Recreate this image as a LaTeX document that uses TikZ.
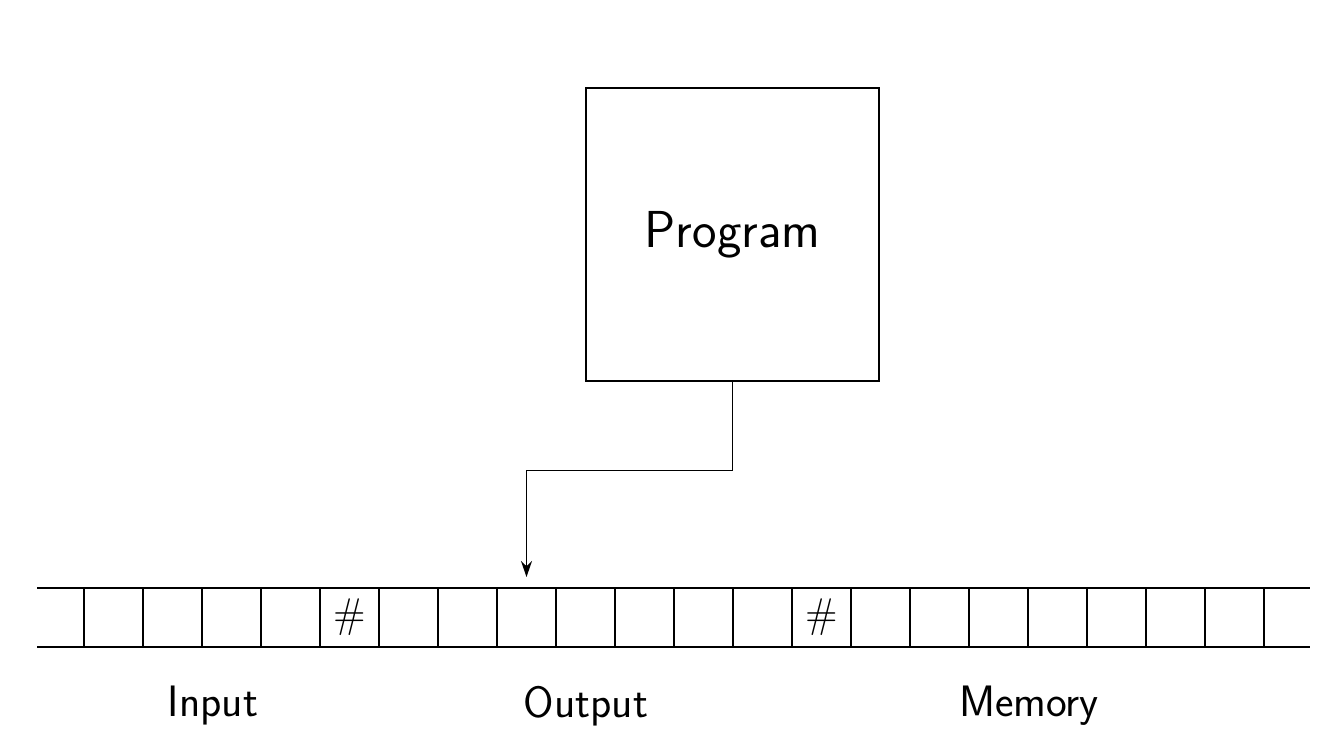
\documentclass[tikz,border=0pt]{standalone}
\usetikzlibrary{arrows.meta}
\renewcommand{\familydefault}{\sfdefault}
\begin{document}
\begin{tikzpicture}[x=0.5pt,y=-0.5pt,line width=0.7pt,
  cell/.style={draw,minimum width=29.5pt,minimum height=29.5pt,inner sep=0pt,outer sep=0pt,font=\fontsize{22}{26}\selectfont},
  prog/.style={draw,minimum width=146.5pt,minimum height=146.5pt,inner sep=0pt,font=\fontsize{26}{31}\selectfont},
  lbl/.style={font=\fontsize{22}{26}\selectfont}]
\useasboundingbox (0,0) rectangle (1334,744);
\foreach \i in {1,...,20}{
  \ifnum\i=5 \def\t{$\#$}\else\ifnum\i=13 \def\t{$\#$}\else\def\t{}\fi\fi
  \node[cell] (c\i) at ({84+59*(\i-0.5)},617.5) {\t};
}
\coordinate (lt) at (37,588);
\coordinate (lb) at (37,647);
\coordinate (rt) at (1310,588);
\coordinate (rb) at (1310,647);
\draw (lt) -- (c1.north west) (lb) -- (c1.south west);
\draw (c20.north east) -- (rt) (c20.south east) -- (rb);
\node[prog] (p) at (732.5,234.5) {Program};
\coordinate (tip) at ([yshift=5.5pt]c8.north);
\draw[-{Stealth[length=8pt,width=5.5pt]}] (p.south) -- ++(0,89) -| (tip);
\node[lbl] (in) at (213,706) {Input};
\node[lbl] (out) at (586,706) {Output};
\node[lbl] (mem) at (1029,706) {Memory};
\end{tikzpicture}
\end{document}
